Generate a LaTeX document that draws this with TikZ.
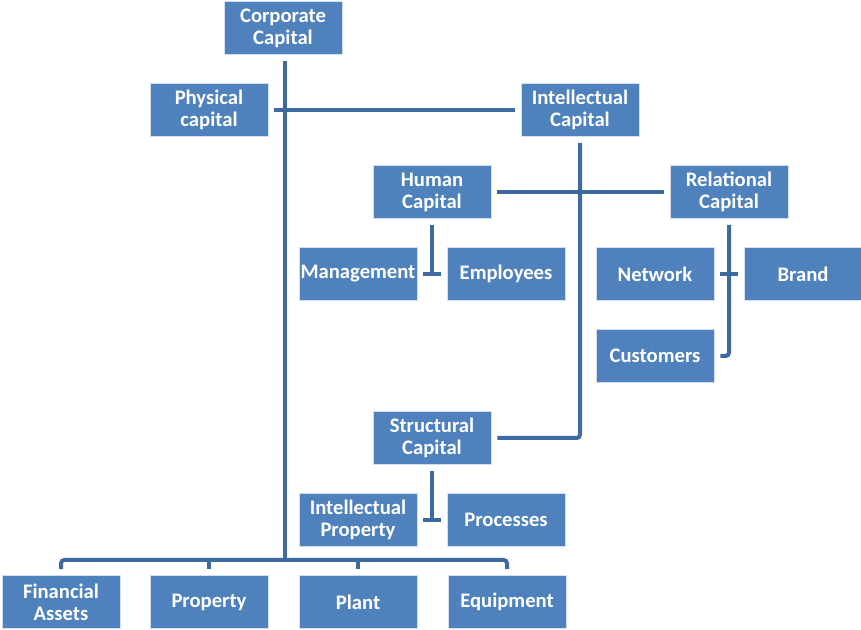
\documentclass[tikz,border=0pt]{standalone}
\usepackage{fontspec}
\setmainfont{Carlito}
\usepackage{color}
\definecolor{myboxblue}{RGB}{79,129,189}
\definecolor{mylineblue}{RGB}{61,106,160}
\newcommand{\widthbox}{88.5pt}
\newcommand{\heightbox}{39.75pt}
\tikzset{
    common/.style={draw=white!75!myboxblue, line width=0.4pt, rectangle, fill=myboxblue, text=white,
        font=\bfseries\fontsize{15.5}{16.5}\selectfont, align=center, inner sep=0pt},
    capbox/.style={common, minimum width=\widthbox, minimum height=\heightbox},
    link/.style={mylineblue, line width=3pt, rounded corners=2.5pt},
    gap/.style={shorten <=4.5pt, shorten >=4.5pt}
}

\begin{document}
\begin{tikzpicture}[x=0.75pt, y=-0.75pt]
    \useasboundingbox (0,0) rectangle (861,630);

    % top levels
    \node[capbox] (corp) at (283,28) {Corporate\\Capital};
    \node[capbox] (phys) at (209,110) {Physical\\capital};
    \node[capbox] (intel) at (580,110) {Intellectual\\Capital};
    \node[capbox] (human) at (432,192) {Human\\Capital};
    \node[capbox] (rel) at (729,192) {Relational\\Capital};
    \node[capbox] (struct) at (432,438) {Structural\\Capital};

    % leaves
    \node[capbox] (mgmt) at (358,274) {Management};
    \node[capbox] (empl) at (506,274) {Employees};
    \node[capbox] (net) at (655,274) {Network};
    \node[capbox] (brand) at (803,274) {Brand};
    \node[capbox] (cust) at (655,356) {Customers};
    \node[capbox] (ip) at (358,520) {Intellectual\\Property};
    \node[capbox] (proc) at (506,520) {Processes};
    \node[capbox] (fin) at (61,602) {Financial\\Assets};
    \node[capbox] (prop) at (209,602) {Property};
    \node[capbox] (plant) at (358,602) {Plant};
    \node[capbox] (equip) at (507,602) {Equipment};

    \coordinate (bus) at (285,560);

    \draw[link, gap] (fin.north) |- (bus) -| (equip.north);
    \draw[link, shorten <=4.5pt] (prop.north) -- (prop.north |- bus);
    \draw[link, shorten <=4.5pt] (plant.north) -- (plant.north |- bus);
    \draw[link, shorten <=5pt] (corp.south -| bus) -- (bus);

    \draw[link, gap] (phys.east) -- (intel.west);
    \draw[link, gap] (intel.south) |- (struct.east);
    \draw[link, gap] (human.east) -- (rel.west);

    \draw[link, shorten <=5pt] (human.south) -- (human.south |- mgmt.east);
    \draw[link, gap] (mgmt.east) -- (empl.west);
    \draw[link, gap] (rel.south) |- (cust.east);
    \draw[link, gap] (net.east) -- (brand.west);
    \draw[link, shorten <=5pt] (struct.south) -- (struct.south |- ip.east);
    \draw[link, gap] (ip.east) -- (proc.west);
\end{tikzpicture}
\end{document}
